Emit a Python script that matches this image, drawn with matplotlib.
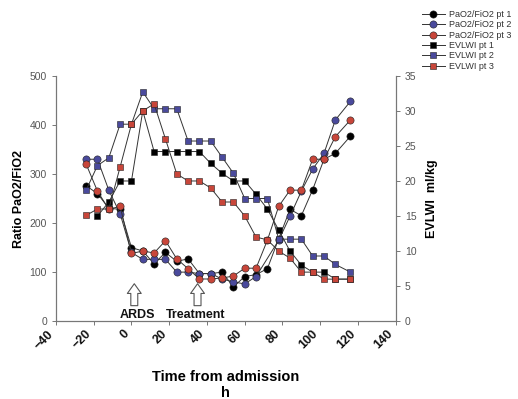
import matplotlib
matplotlib.use("Agg")
import matplotlib.pyplot as plt

plt.rcParams['font.family'] = ['Liberation Sans', 'DejaVu Sans']

# PaO2/FiO2 ratio (left axis), hours from admission
pf1_h = [-24, -18, -12, -6, 0, 6, 12, 18, 24, 30, 36, 42, 48, 54, 60, 66, 72, 78, 84, 90, 96, 102, 108, 116]
pf1 = [276, 260, 230, 228, 150, 143, 117, 140, 122, 127, 97, 97, 100, 70, 91, 95, 107, 168, 228, 215, 268, 330, 342, 377]

pf2_h = [-24, -18, -12, -6, 0, 6, 12, 18, 24, 30, 36, 42, 48, 54, 60, 66, 78, 84, 90, 96, 102, 108, 116]
pf2 = [330, 330, 267, 219, 140, 126, 126, 126, 100, 100, 97, 97, 86, 80, 76, 91, 165, 214, 265, 310, 342, 410, 448]

pf3_h = [-24, -18, -12, -6, 0, 6, 12, 18, 24, 30, 36, 42, 48, 54, 60, 66, 72, 78, 84, 90, 96, 102, 108, 116]
pf3 = [320, 265, 228, 234, 138, 143, 139, 164, 127, 107, 86, 86, 88, 92, 108, 108, 165, 234, 267, 267, 330, 330, 376, 410]

# EVLWI ml/kg (right axis)
ev1_h = [-18, -12, -6, 0, 6, 12, 18, 24, 30, 36, 42, 48, 54, 60, 66, 72, 78, 84, 90, 96, 102, 108, 116]
ev1 = [15.0, 17.0, 20.0, 20.0, 30.0, 24.2, 24.2, 24.2, 24.2, 24.2, 22.5, 21.1, 20.0, 20.0, 18.1, 16.0, 13.0, 10.0, 8.0, 7.0, 7.0, 6.0, 6.0]

ev2_h = [-24, -18, -12, -6, 0, 6, 12, 18, 24, 30, 36, 42, 48, 54, 60, 66, 72, 78, 84, 90, 96, 102, 108, 116]
ev2 = [18.7, 22.2, 23.3, 28.1, 28.1, 32.7, 30.3, 30.3, 30.3, 25.7, 25.7, 25.7, 23.4, 21.1, 17.5, 17.5, 17.5, 11.7, 11.7, 11.7, 9.3, 9.3, 8.1, 7.0]

ev3_h = [-24, -18, -12, -6, 0, 6, 12, 18, 24, 30, 36, 42, 48, 54, 60, 66, 72, 78, 84, 90, 96, 102, 108, 116]
ev3 = [15.1, 16.0, 16.0, 22.0, 28.1, 30.0, 31.0, 26.0, 21.0, 20.0, 20.0, 19.0, 17.0, 17.0, 15.0, 12.0, 11.6, 10.0, 9.0, 7.0, 7.0, 6.0, 6.0, 6.0]

black = '#000000'
blue = '#4a4a9c'
red = '#c8463a'
line_col = '#333333'
grey = '#555555'

fig = plt.figure(figsize=(5.18, 3.99), dpi=100)
ax = fig.add_axes([0.108, 0.195, 0.656, 0.615])
ax2 = ax.twinx()

kw = dict(color=line_col, lw=0.7, markeredgecolor='#222222', markeredgewidth=0.4)
h1, = ax.plot(pf1_h, pf1, marker='o', ms=5.2, markerfacecolor=black, label='PaO2/FiO2 pt 1', **kw)
h2, = ax.plot(pf2_h, pf2, marker='o', ms=5.2, markerfacecolor=blue, label='PaO2/FiO2 pt 2', **kw)
h3, = ax.plot(pf3_h, pf3, marker='o', ms=5.2, markerfacecolor=red, label='PaO2/FiO2 pt 3', **kw)
h4, = ax2.plot(ev1_h, ev1, marker='s', ms=4.5, markerfacecolor=black, label='EVLWI pt 1', **kw)
h5, = ax2.plot(ev2_h, ev2, marker='s', ms=4.5, markerfacecolor=blue, label='EVLWI pt 2', **kw)
h6, = ax2.plot(ev3_h, ev3, marker='s', ms=4.5, markerfacecolor=red, label='EVLWI pt 3', **kw)

ax.set_xlim(-40, 140)
ax.set_ylim(0, 500)
ax2.set_ylim(0, 35)
ax.set_xticks(range(-40, 141, 20))
ax.set_yticks(range(0, 501, 100))
ax2.set_yticks(range(0, 36, 5))

for a in (ax, ax2):
    a.spines['top'].set_visible(False)
    for s in a.spines.values():
        s.set_color('#777777')
        s.set_linewidth(0.8)
    a.tick_params(direction='out', length=3, width=0.7, color='#777777',
                  labelsize=7.5, labelcolor=grey)

ax.tick_params(axis='x', labelsize=9, labelcolor='#111111', pad=2)
for lbl in ax.get_xticklabels():
    lbl.set_rotation(45)
    lbl.set_ha('right')
    lbl.set_fontweight('bold')

ax.set_ylabel('Ratio PaO2/FiO2', fontsize=9, fontweight='bold', labelpad=3)
ax2.set_ylabel('EVLWI  ml/kg', fontsize=9, fontweight='bold', labelpad=7)
ax.set_xlabel('Time from admission\nh', fontsize=10.5, fontweight='bold',
              labelpad=13, linespacing=1.2)

# event arrows
arrow = dict(arrowstyle='simple,head_width=1.0,head_length=0.7,tail_width=0.5',
             fc='white', ec='#555555', lw=0.8)
ax.annotate('', xy=(1.5, 82), xytext=(1.5, 26), arrowprops=arrow)
ax.annotate('', xy=(35, 82), xytext=(35, 26), arrowprops=arrow)
ax.text(3, 12, 'ARDS', fontsize=9, fontweight='bold', ha='center', va='center', color='#111111')
ax.text(34, 12, 'Treatment', fontsize=9, fontweight='bold', ha='center', va='center', color='#111111')

fig.legend(handles=[h1, h2, h3, h4, h5, h6], loc='upper left',
           bbox_to_anchor=(0.814, 0.975), frameon=False, fontsize=6.5,
           handlelength=2.6, handletextpad=0.4, labelspacing=0.15,
           borderpad=0, borderaxespad=0, labelcolor='#333333')

fig.savefig('out.png', dpi=100)
